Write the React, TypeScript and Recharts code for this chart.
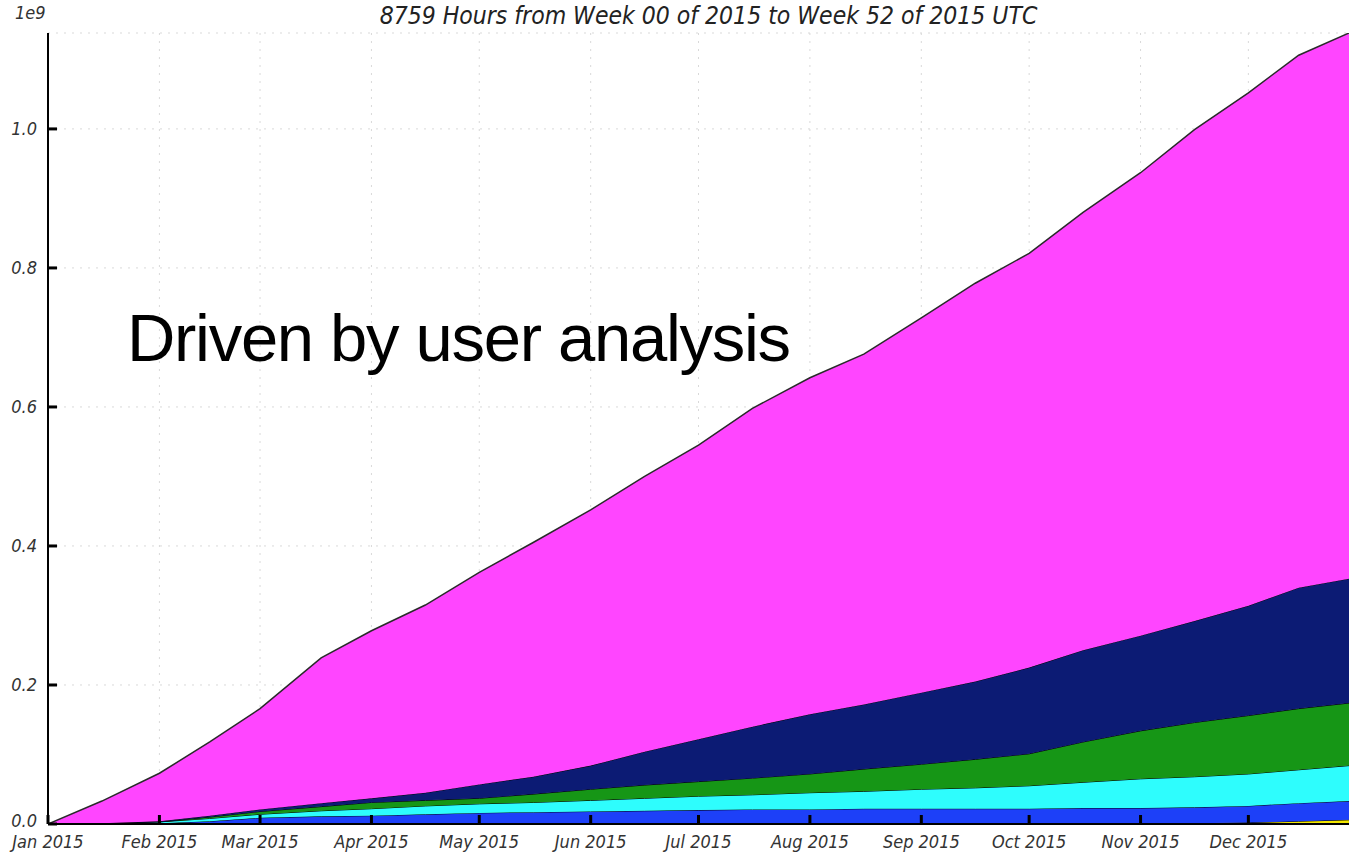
import React from 'react';
import { AreaChart, Area, XAxis, YAxis, CartesianGrid } from 'recharts';

// day of year (2015) for each sample, values in units of 1e9 (stacked layers, bottom first)
const days = [0, 15, 31, 45, 59, 76, 90, 105, 120, 135, 151, 166, 181, 196, 212, 227, 243, 258, 273, 288, 304, 319, 334, 348, 362];
const yellowVals = [0, 0, 0, 0, 0, 0, 0, 0, 0, 0, 0, 0, 0, 0, 0, 0, 0, 0, 0, 0, 0.0005, 0.001, 0.002, 0.004, 0.006];
const blueVals = [0, 0.0005, 0.001, 0.004, 0.009, 0.011, 0.012, 0.014, 0.016, 0.017, 0.018, 0.019, 0.02, 0.021, 0.021, 0.022, 0.022, 0.022, 0.022, 0.023, 0.0225, 0.023, 0.024, 0.026, 0.027];
const cyanVals = [0, 0.0005, 0.002, 0.004, 0.005, 0.008, 0.01, 0.012, 0.013, 0.014, 0.016, 0.018, 0.02, 0.021, 0.024, 0.025, 0.028, 0.03, 0.033, 0.037, 0.042, 0.044, 0.046, 0.048, 0.051];
const greenVals = [0, 0, 0, 0.002, 0.004, 0.006, 0.009, 0.008, 0.008, 0.012, 0.016, 0.019, 0.021, 0.024, 0.027, 0.032, 0.036, 0.041, 0.046, 0.058, 0.069, 0.078, 0.084, 0.088, 0.09];
const navyVals = [0, 0, 0.001, 0.002, 0.003, 0.005, 0.006, 0.011, 0.02, 0.025, 0.034, 0.048, 0.061, 0.074, 0.086, 0.093, 0.103, 0.112, 0.124, 0.132, 0.137, 0.146, 0.158, 0.174, 0.179];
const magentaVals = [0, 0.032, 0.069, 0.106, 0.145, 0.209, 0.241, 0.27, 0.305, 0.337, 0.368, 0.396, 0.423, 0.458, 0.484, 0.504, 0.539, 0.573, 0.596, 0.63, 0.666, 0.707, 0.738, 0.766, 0.785];

const monthStarts = [0, 31, 59, 90, 120, 151, 181, 212, 243, 273, 304, 334];
const monthLabels = ['Jan 2015', 'Feb 2015', 'Mar 2015', 'Apr 2015', 'May 2015', 'Jun 2015', 'Jul 2015', 'Aug 2015', 'Sep 2015', 'Oct 2015', 'Nov 2015', 'Dec 2015'];
const yTicks = [0, 0.2, 0.4, 0.6, 0.8, 1.0];

const chartData = days.map((d, i) => ({
    day: d,
    yellow: yellowVals[i],
    blue: blueVals[i],
    cyan: cyanVals[i],
    green: greenVals[i],
    navy: navyVals[i],
    magenta: magentaVals[i]
}));

const FONT = "'DejaVu Sans Condensed', 'Liberation Sans Narrow', 'DejaVu Sans', sans-serif";
const TEXT_COLOR = '#333';

const BottomTick = (props: any) => {
    const { x, y, payload } = props;
    const idx = monthStarts.indexOf(payload.value);
    return (
        <g>
            <line x1={x} y1={y} x2={x} y2={y - 9} stroke="#000" strokeWidth={3} />
            <text x={x} y={y + 24} textAnchor="middle" fontSize={18} fontStyle="italic" fill={TEXT_COLOR} fontFamily={FONT}>
                {monthLabels[idx]}
            </text>
        </g>
    );
};

const TopTick = (props: any) => {
    const { x, y } = props;
    return <line x1={x} y1={y} x2={x} y2={y + 9} stroke="#000" strokeWidth={3} />;
};

const LeftTick = (props: any) => {
    const { x, y, payload } = props;
    // the 0.0 label sits a little higher so it clears "Jan 2015"
    const dy = payload.value === 0 ? -4 : 0;
    return (
        <g>
            <line x1={x} y1={y} x2={x + 9} y2={y} stroke="#000" strokeWidth={3} />
            <text x={x - 11} y={y + dy} textAnchor="end" dominantBaseline="central" fontSize={18} fontStyle="italic" fill={TEXT_COLOR} fontFamily={FONT}>
                {Number(payload.value).toFixed(1)}
            </text>
        </g>
    );
};

const App: React.FC = () => {
    return (
        <div style={{ position: 'absolute', left: 0, top: 0, width: 1349, height: 852, background: '#fff', overflow: 'hidden' }}>
            <AreaChart width={1349} height={852} data={chartData} margin={{ top: 33, right: 0, bottom: 0, left: 0 }}>
                <CartesianGrid stroke="#d9d9d9" strokeDasharray="2 6" />
                <XAxis
                    dataKey="day"
                    type="number"
                    domain={[0, 362]}
                    ticks={monthStarts}
                    allowDataOverflow
                    height={28}
                    tickSize={0}
                    tickMargin={0}
                    tickLine={false}
                    axisLine={{ stroke: '#000', strokeWidth: 2 }}
                    tick={<BottomTick />}
                    interval={0}
                />
                <XAxis
                    xAxisId="top"
                    orientation="top"
                    dataKey="day"
                    type="number"
                    domain={[0, 362]}
                    ticks={monthStarts}
                    allowDataOverflow
                    height={0}
                    tickSize={0}
                    tickMargin={0}
                    tickLine={false}
                    axisLine={{ stroke: '#000', strokeWidth: 2 }}
                    tick={<TopTick />}
                    interval={0}
                />
                <YAxis
                    type="number"
                    domain={[0, 1.138]}
                    ticks={yTicks}
                    allowDataOverflow
                    width={48}
                    tickSize={0}
                    tickMargin={0}
                    tickLine={false}
                    axisLine={{ stroke: '#000', strokeWidth: 2 }}
                    tick={<LeftTick />}
                    interval={0}
                />
                <Area type="linear" dataKey="yellow" stackId="1" fill="#f2e600" fillOpacity={1} stroke="#000" strokeWidth={1} isAnimationActive={false} dot={false} activeDot={false} />
                <Area type="linear" dataKey="blue" stackId="1" fill="#1d40f8" fillOpacity={1} stroke="#000" strokeWidth={1} isAnimationActive={false} dot={false} activeDot={false} />
                <Area type="linear" dataKey="cyan" stackId="1" fill="#2efdfd" fillOpacity={1} stroke="#000" strokeWidth={1} isAnimationActive={false} dot={false} activeDot={false} />
                <Area type="linear" dataKey="green" stackId="1" fill="#169616" fillOpacity={1} stroke="#000" strokeWidth={1} isAnimationActive={false} dot={false} activeDot={false} />
                <Area type="linear" dataKey="navy" stackId="1" fill="#0c1b74" fillOpacity={1} stroke="#000" strokeWidth={1} isAnimationActive={false} dot={false} activeDot={false} />
                <Area type="linear" dataKey="magenta" stackId="1" fill="#ff45ff" fillOpacity={1} stroke="#2a2a2a" strokeWidth={1.5} isAnimationActive={false} dot={false} activeDot={false} />
            </AreaChart>
            {/* scale factor and title, drawn like the matplotlib header */}
            <div style={{ position: 'absolute', left: 15, top: 2, fontFamily: FONT, fontStyle: 'italic', fontSize: 18, color: TEXT_COLOR }}>1e9</div>
            <div style={{ position: 'absolute', left: 0, width: 1417, top: 1, textAlign: 'center', fontFamily: FONT, fontStyle: 'italic', fontSize: 24.5, color: '#222', whiteSpace: 'nowrap' }}>
                8759 Hours from Week 00 of 2015 to Week 52 of 2015 UTC
            </div>
            {/* slide annotation */}
            <div style={{ position: 'absolute', left: 127, top: 304, fontFamily: "'Liberation Sans', Arial, sans-serif", fontSize: 67, letterSpacing: -1.3, color: '#000', whiteSpace: 'nowrap', lineHeight: 1 }}>
                Driven by user analysis
            </div>
        </div>
    );
};

export default App;
